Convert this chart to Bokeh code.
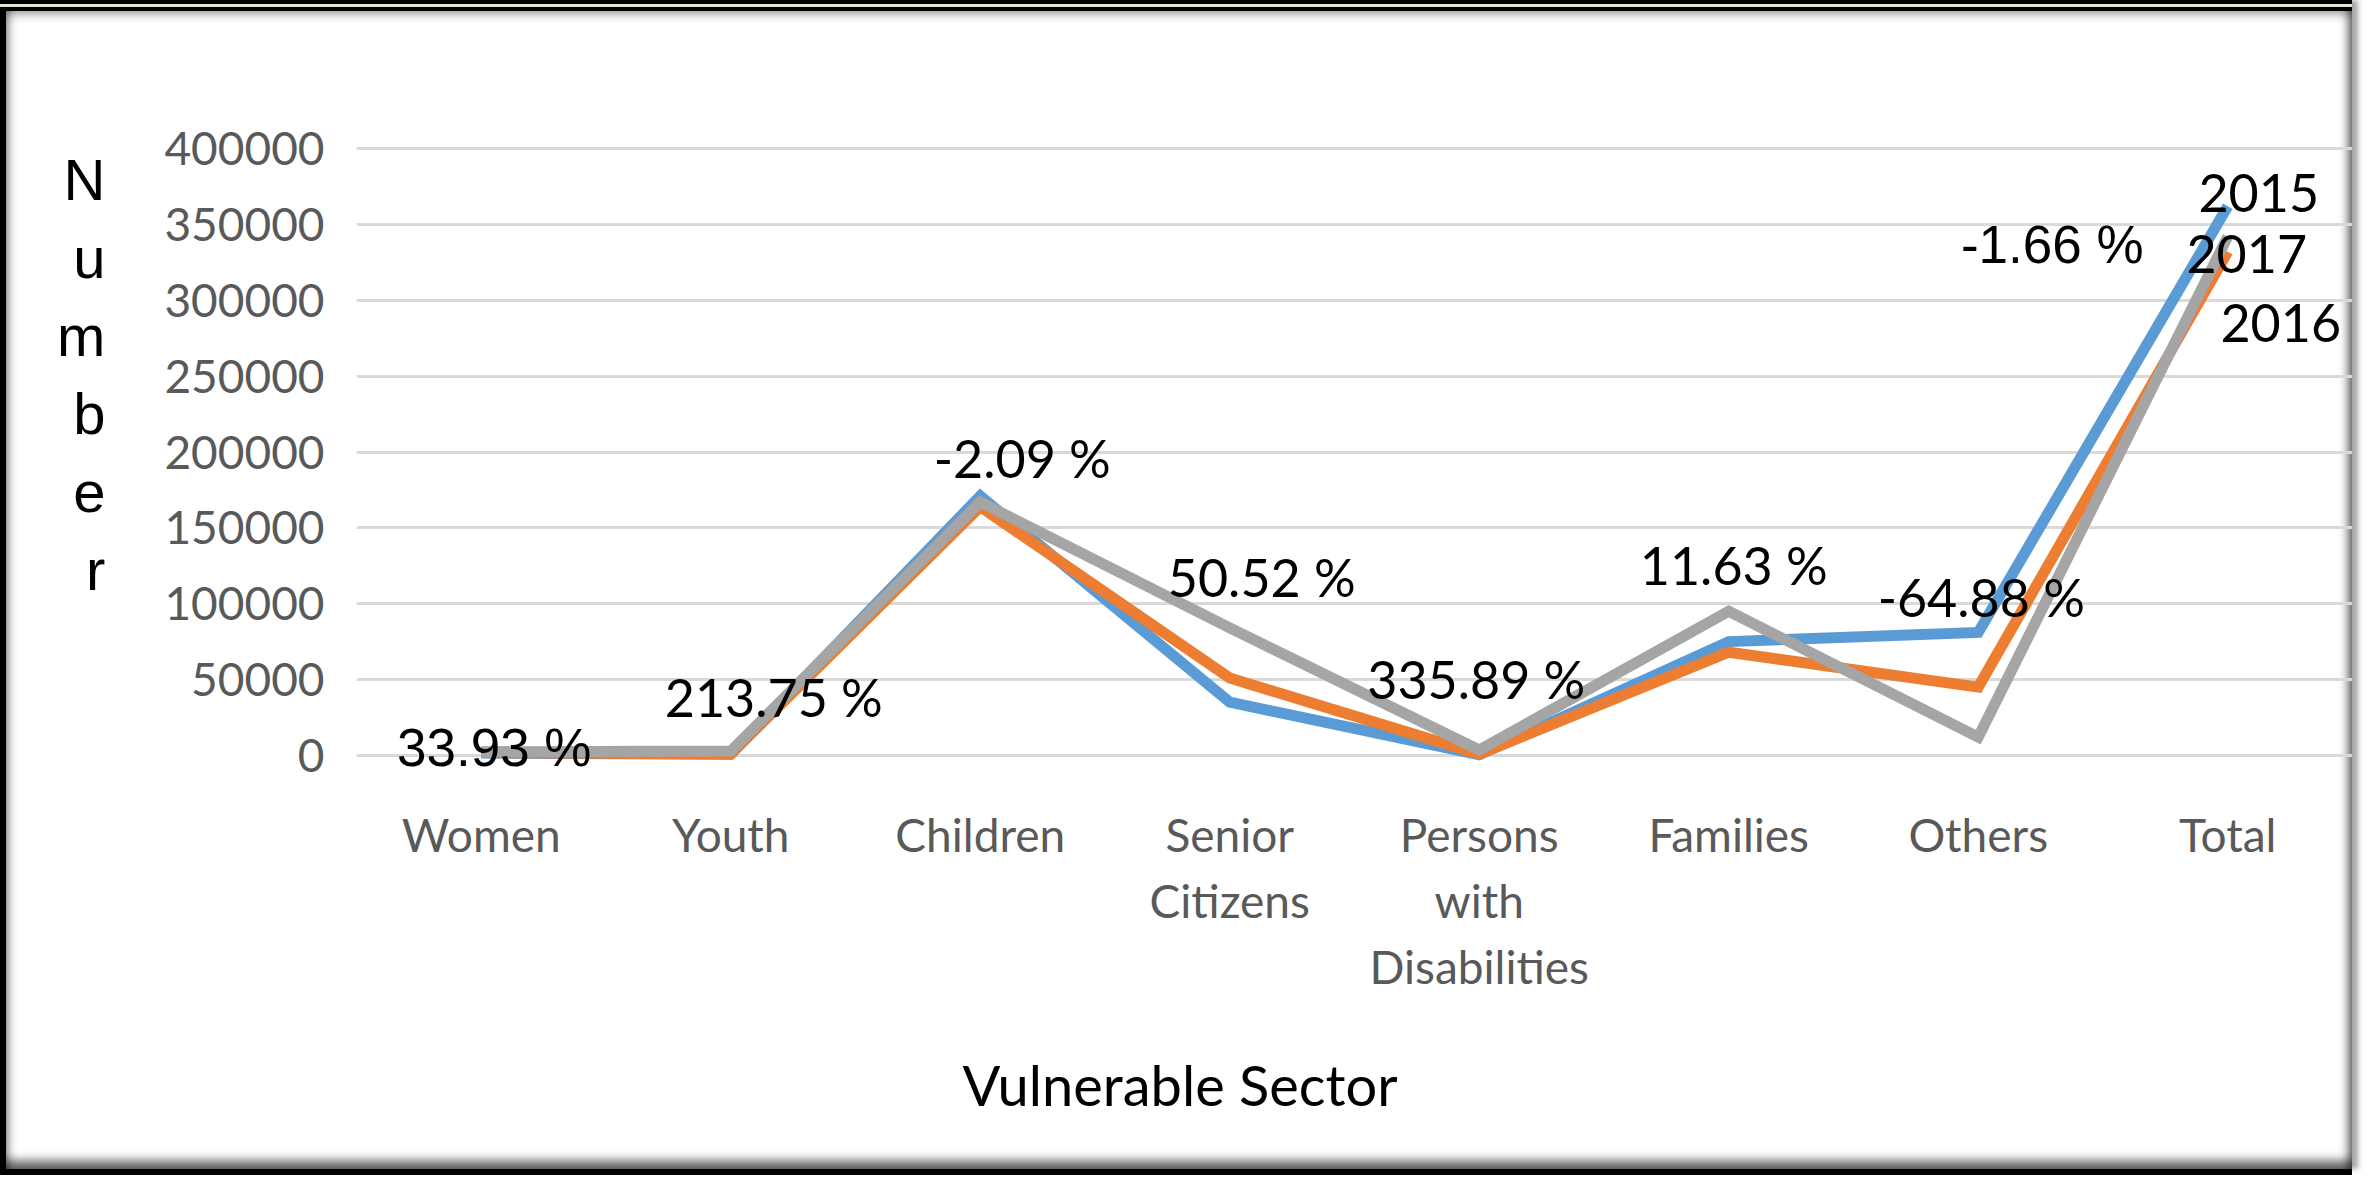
from bokeh.plotting import figure
from bokeh.models import (ColumnDataSource, FactorRange, Range1d, FixedTicker,
                          NumeralTickFormatter, Title)
from bokeh.core.properties import value
from bokeh.embed import file_html
from bokeh.resources import INLINE

# ---------------- data ----------------
sectors = ["Women", "Youth", "Children", "Senior\nCitizens",
           "Persons\nwith\nDisabilities", "Families", "Others", "Total"]
v2015 = [1500, 800, 171000, 35000, 400, 75000, 81000, 362000]
v2016 = [1800, 900, 164000, 51000, 800, 68000, 45000, 332000]
v2017 = [2400, 2800, 167000, 84000, 3500, 95000, 12000, 342000]
y_ticks = [0, 50000, 100000, 150000, 200000, 250000, 300000, 350000, 400000]

# percentage annotations (Calibri-like ones)
pct_text = ["213.75 %", "-2.09 %", "50.52 %", "335.89 %", "11.63 %", "-64.88 %"]
pct_cat = ["Youth", "Children", "Senior\nCitizens", "Persons\nwith\nDisabilities", "Families", "Others"]
pct_y = [38400, 196300, 117400, 50300, 125300, 104200]
pct_dx = [43, 42, 32, -3, 5, 3]
# percentage annotations (Arial-like ones)
pct2_text = ["33.93 %", "-1.66 %"]
pct2_cat = ["Women", "Others"]
pct2_y = [4900, 336500]
pct2_dx = [13, 74]
# series labels
year_text = ["2015", "2017", "2016"]
year_cat = ["Total", "Total", "Total"]
year_y = [370700, 330500, 285100]
year_dx = [31, 19, 53]

W, H = 2352, 1169
FL, FB = 356, 771   # frame left / frame bottom in canvas pixels

frame_css = {
    "background-color": "white",
    "box-shadow": ("inset 0 4px 0 0 black, inset 0 7px 0 0 #E6E1D3, inset 0 11px 0 0 black, "
                   "inset 6px 0 0 0 black, "
                   "inset 0 16px 12px -4px rgba(0,0,0,0.55), "
                   "inset 12px 0 10px -4px rgba(0,0,0,0.55), "
                   "inset -9px 0 8px -4px rgba(0,0,0,0.45), "
                   "inset 0 -13px 10px -4px rgba(0,0,0,0.55), "
                   "0 -8px 0 0 black, -8px 0 0 0 black, -8px -8px 0 0 black, "
                   "0 6px 0 0 black, 6px 0 5px 0 rgba(0,0,0,0.35)"),
}

p = figure(width=W, height=H, x_range=FactorRange(*sectors, range_padding=0),
           y_range=Range1d(-10000, 410000), output_backend="svg",
           toolbar_location=None, min_border_left=FL, min_border_right=0,
           min_border_top=133, min_border_bottom=H - FB, styles=frame_css)
p.x_range.factor_padding = 0
p.background_fill_color = None
p.border_fill_color = None
p.outline_line_color = None

# grid
p.xgrid.grid_line_color = None
p.ygrid.grid_line_color = "#D9D9D9"
p.ygrid.grid_line_width = 3
p.yaxis.ticker = FixedTicker(ticks=y_ticks)
p.yaxis.formatter = NumeralTickFormatter(format="0")

for ax in (p.xaxis[0], p.yaxis[0]):
    ax.axis_line_color = None
    ax.major_tick_line_color = None
    ax.minor_tick_line_color = None
    ax.major_label_text_color = "#595959"
    ax.major_label_text_font = "Lato"

p.yaxis.major_label_text_font_size = "46px"
p.yaxis.major_label_standoff = 26
p.xaxis.major_label_text_font_size = "46px"
p.xaxis.major_label_standoff = 30
p.xaxis.major_label_text_line_height = 1.2

# y axis title: letters stacked vertically
yax = p.yaxis[0]
yax.axis_label = "\n".join("Number") + "\n \n "
yax.axis_label_text_font = "Liberation Sans"
yax.axis_label_text_font_size = "58px"
yax.axis_label_text_font_style = "normal"
yax.axis_label_text_color = "black"
yax.axis_label_text_line_height = 1.2
yax.axis_label_standoff = 56
try:
    yax.axis_label_orientation = "horizontal"
except Exception:
    yax.axis_label = None
    p.add_layout(Title(text="Number", align="center", text_font="Liberation Sans",
                       text_font_size="58px", text_font_style="normal"), "left")

# lines
src = ColumnDataSource(dict(x=sectors, a=v2015, b=v2016, c=v2017))
p.line("x", "a", source=src, line_color="#5B9BD5", line_width=11, line_join="miter")
p.line("x", "b", source=src, line_color="#ED7D31", line_width=11, line_join="miter")
p.line("x", "c", source=src, line_color="#A5A5A5", line_width=11, line_join="miter")

# annotations
s1 = ColumnDataSource(dict(x=pct_cat, y=pct_y, t=pct_text, dx=pct_dx))
p.text("x", "y", text="t", x_offset="dx", source=s1, text_font=value("Lato"),
       text_font_size="52px", text_align="center", text_baseline="middle", text_color="black")
s2 = ColumnDataSource(dict(x=pct2_cat, y=pct2_y, t=pct2_text, dx=pct2_dx))
p.text("x", "y", text="t", x_offset="dx", source=s2, text_font=value("Liberation Sans"),
       text_font_size="53px", text_align="center", text_baseline="middle", text_color="black")
s3 = ColumnDataSource(dict(x=year_cat, y=year_y, t=year_text, dx=year_dx))
p.text("x", "y", text="t", x_offset="dx", source=s3, text_font=value("Lato"),
       text_font_size="52px", text_align="center", text_baseline="middle", text_color="black")

# x axis title (left of frame centre, like the reference)
p.add_layout(Title(text="Vulnerable Sector", align="left", offset=606, standoff=104,
                   text_font="Lato", text_font_size="56px", text_font_style="normal",
                   text_color="black"), "below")

open("out.html", "w").write(file_html(p, INLINE))
